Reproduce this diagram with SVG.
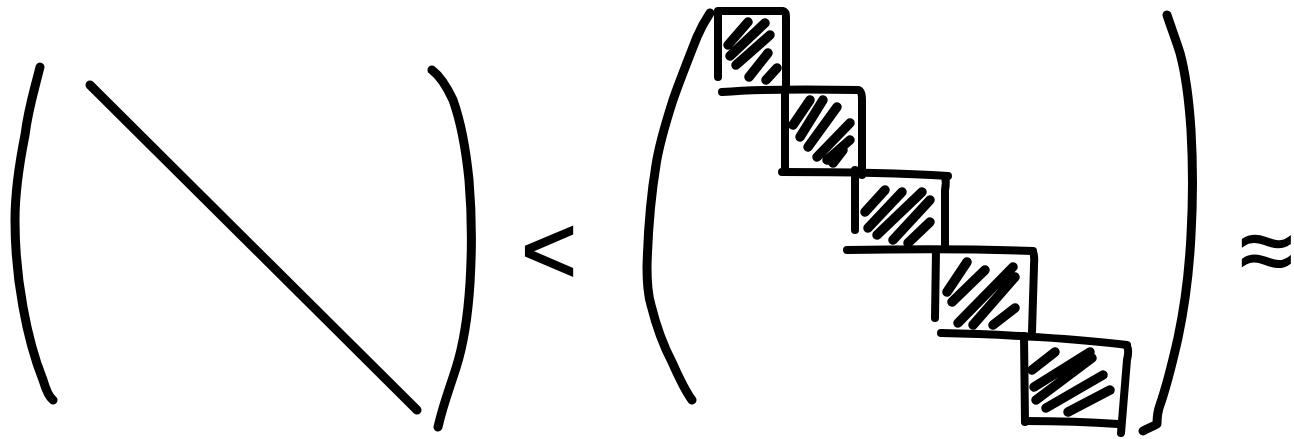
<svg xmlns="http://www.w3.org/2000/svg" width="1294" height="439" viewBox="0 0 1294 439">
<style>
.s{fill:none;stroke:#000;stroke-width:9;stroke-linecap:round;stroke-linejoin:round}
.b{fill:none;stroke:#000;stroke-width:8;stroke-linecap:round;stroke-linejoin:round}
.h{fill:none;stroke:#000;stroke-width:9.5;stroke-linecap:round}
.t{font-family:"Liberation Sans",Arial,sans-serif;font-size:96px;fill:#000;stroke:#000;stroke-width:1.6}
</style>
<rect width="1294" height="439" fill="#fff"/>
<g id="left-matrix">
<path class="s" d="M40,67 C33,95 28,110 25,135 C19,165 15,190 15,220 C15,255 18,280 23,307 C28,335 35,360 43,380 C46,390 49,397 53,400"/>
<path class="s" d="M432,70 C440,76 447,87 453,100 C462,125 466,150 469,180 C472,215 472,250 470,283 C468,315 464,343 456,368 C450,387 443,405 438,427"/>
<path class="s" d="M90,85 L417,410"/>
</g>
<g id="less-than"><text class="t" x="521" y="283">&lt;</text></g>
<g id="right-matrix">
<path class="s" d="M710,13 C704,22 700,30 697,37 C688,60 680,80 673,100 C665,125 659,145 656,165 C651,195 648,230 647,267 C647,285 648,295 651,305 C656,325 663,345 672,362 C680,380 686,392 692,400"/>
<path class="s" d="M1167,15 C1172,30 1176,40 1180,53 C1186,75 1189,100 1191,130 C1193,165 1193,200 1191,235 C1189,275 1185,305 1178,338 C1173,360 1167,385 1160,405 C1157,413 1157,420 1157,424 C1152,427 1148,428 1143,431"/>
</g>
<g id="block-1">
<path class="b" d="M718,77 L718,12 M718,11 L783,11 C786,12 786,14 786,18 L786,88"/>
<path class="b" d="M722,92 C760,89 810,89 858,90"/>
<path class="h" d="M748,22 L728,45 M765,23 L730,56 M770,35 L736,65 M768,53 L749,77 M777,68 L766,80"/>
</g>
<g id="block-2">
<path class="b" d="M785,90 L785,170 M860,91 C862,93 862,96 862,100 L862,175"/>
<path class="b" d="M782,172 C830,172 900,173 948,176"/>
<path class="h" d="M810,100 L793,125 M823,100 L800,137 M837,107 L808,147 M850,123 L817,157 M850,140 L827,160 M843,150 L833,163"/>
</g>
<g id="block-3">
<path class="b" d="M855,170 L855,230 M945,176 C946,180 946,185 945,190 L945,245"/>
<path class="b" d="M847,250 C900,249 980,249 1033,251"/>
<path class="h" d="M885,190 L865,212 M902,192 L868,228 M922,192 L877,235 M930,200 L893,240 M930,222 L908,243"/>
</g>
<g id="block-4">
<path class="b" d="M936,250 L935,318 M1033,252 C1035,256 1034,262 1034,266 L1032,332"/>
<path class="b" d="M941,333 C1000,334 1080,339 1127,345"/>
<path class="h" d="M967,262 L947,292 M985,270 L952,302 M1013,267 L958,323 M1015,277 L973,325 M1015,308 L993,325"/>
</g>
<g id="block-5">
<path class="b" d="M1024,336 L1025,422 M1127,346 C1129,350 1128,356 1127,360 L1121,433"/>
<path class="b" d="M1025,421 C1060,421 1090,422 1118,424"/>
<path class="h" d="M1055,352 L1032,370 M1090,352 L1034,387 M1092,358 L1036,400 M1103,375 L1046,408 M1110,390 L1068,412"/>
</g>
<g id="approx"><text class="t" x="1240" y="283">≈</text></g>
</svg>
